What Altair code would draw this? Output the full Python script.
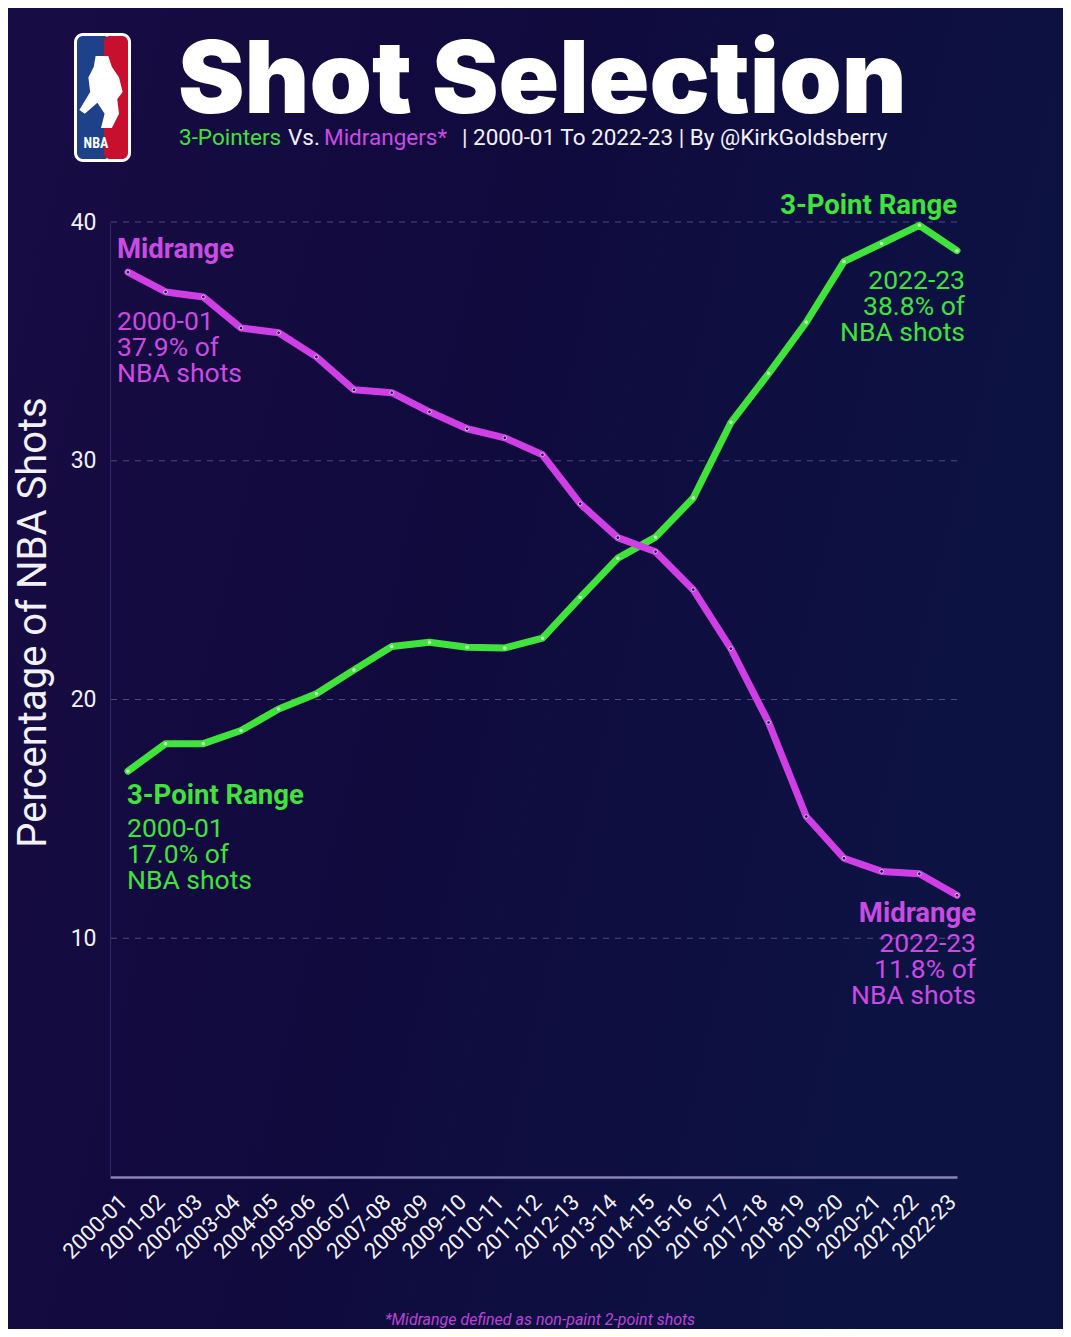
import altair as alt
import pandas as pd

# ---------------- data ----------------
seasons = ["2000-01", "2001-02", "2002-03", "2003-04", "2004-05", "2005-06",
           "2006-07", "2007-08", "2008-09", "2009-10", "2010-11", "2011-12",
           "2012-13", "2013-14", "2014-15", "2015-16", "2016-17", "2017-18",
           "2018-19", "2019-20", "2020-21", "2021-22", "2022-23"]
three_pt = [17.0, 18.15, 18.15, 18.7, 19.6, 20.24, 21.24, 22.22, 22.4, 22.19,
            22.16, 22.57, 24.27, 25.92, 26.8, 28.44, 31.6, 33.65, 35.8, 38.34,
            39.1, 39.86, 38.8]
midrange = [37.9, 37.07, 36.86, 35.56, 35.36, 34.35, 32.97, 32.85, 32.05, 31.34,
            30.96, 30.25, 28.2, 26.78, 26.19, 24.6, 22.13, 19.04, 15.1, 13.35,
            12.8, 12.7, 11.8]
y_ticks = [10, 20, 30, 40]
series_names = ["3-Point Range", "Midrange"]

# ---------------- styling ----------------
GREEN = "#3fe33b"
MAGENTA = "#d03fe6"
MAG_TEXT = "#cc4ae4"
WHITE = "#f2f1f8"
FONT = "Roboto"

W, H = 847, 955
PAD = {"left": 102, "top": 214, "right": 106, "bottom": 152}


def px(x):
    return x - 110


def py(y):
    return y - 222


n = len(seasons)
df = pd.DataFrame({
    "idx": list(range(n)) * 2,
    "season": seasons * 2,
    "value": three_pt + midrange,
    "series": [series_names[0]] * n + [series_names[1]] * n,
})
grid_df = pd.DataFrame({"value": y_ticks})
one = pd.DataFrame({"k": [0]})

label_js = "[" + ",".join(f"'{s}'" for s in seasons) + "][datum.value]"

x_enc = alt.X(
    "idx:Q",
    scale=alt.Scale(domain=[-0.477, n - 1], nice=False, zero=False),
    axis=alt.Axis(values=list(range(n)), labelExpr=label_js, labelAngle=315,
                  labelFontSize=22, labelColor=WHITE, labelFont=FONT,
                  labelPadding=14, labelOffset=-12, labelOverlap=False, ticks=False,
                  grid=False, domainColor="#8a84b9", domainWidth=2.5, title=None,
                  zindex=1),
)
y_enc = alt.Y(
    "value:Q",
    scale=alt.Scale(domain=[0, 40], nice=False, zero=True),
    axis=alt.Axis(values=y_ticks, grid=False, ticks=False, domainColor="#2f2a6a",
                  domainWidth=1, labelFontSize=23, labelColor=WHITE, labelFont=FONT,
                  labelPadding=14, title="Percentage of NBA Shots", titleFont=FONT,
                  titleFontSize=40, titleFontWeight="normal", titleColor=WHITE,
                  titleX=-77, titleY=400, titleAlign="center",
                  titleBaseline="middle", zindex=1),
)

# ---------------- background ----------------
bg = alt.Chart(one).mark_rect(
    fill=alt.LinearGradient(
        gradient="linear",
        stops=[alt.GradientStop(color="#180c44", offset=0),
               alt.GradientStop(color="#100a3d", offset=0.5),
               alt.GradientStop(color="#0c1343", offset=1)],
        x1=0, x2=1, y1=0, y2=0.3,
    )
).encode(x=alt.value(-PAD["left"]), x2=alt.value(W + PAD["right"]),
         y=alt.value(-PAD["top"]), y2=alt.value(H + PAD["bottom"]))

grid = alt.Chart(grid_df).mark_rule(
    color="#4d4987", strokeDash=[6, 6], strokeWidth=1
).encode(y=y_enc)

base = alt.Chart(df)
green_line = base.transform_filter(alt.datum.series == series_names[0]).mark_line(
    color=GREEN, strokeWidth=7, strokeJoin="round", strokeCap="round"
).encode(x=x_enc, y=y_enc)
mag_line = base.transform_filter(alt.datum.series == series_names[1]).mark_line(
    color=MAGENTA, strokeWidth=7, strokeJoin="round", strokeCap="round"
).encode(x=x_enc, y=y_enc)
green_pts = base.transform_filter(alt.datum.series == series_names[0]).mark_point(
    filled=True, size=12, color="#c9ffc2", opacity=1
).encode(x=x_enc, y=y_enc)
mag_pts = base.transform_filter(alt.datum.series == series_names[1]).mark_point(
    filled=True, size=14, fill="#2a0c52", stroke="#f3d2ff", strokeWidth=0.8, opacity=1
).encode(x=x_enc, y=y_enc)


def txt(text, x, y, size, color, weight="normal", align="left", font=FONT,
        style="normal", baseline="middle"):
    return alt.Chart(one).mark_text(
        text=text, align=align, baseline=baseline, fontSize=size, font=font,
        fontWeight=weight, color=color, fontStyle=style
    ).encode(x=alt.value(px(x)), y=alt.value(py(y)))


texts = [
    # header
    txt("Shot Selection", 178, 113, 100, "#ffffff", weight=900, font="Inter",
        baseline="alphabetic"),
    txt("3-Pointers", 179, 138, 22.5, GREEN),
    txt("Vs.", 288, 138, 22.5, WHITE),
    txt("Midrangers*", 324, 138, 22.5, MAG_TEXT),
    txt("| 2000-01 To 2022-23 | By @KirkGoldsberry", 462, 138, 22.5, WHITE),
    # annotations
    txt("Midrange", 117, 250, 27.5, MAG_TEXT, weight="bold"),
    txt("2000-01", 117, 322, 26.5, MAG_TEXT),
    txt("37.9% of", 117, 348, 26.5, MAG_TEXT),
    txt("NBA shots", 117, 374, 26.5, MAG_TEXT),
    txt("3-Point Range", 957, 206, 27.5, GREEN, weight="bold", align="right"),
    txt("2022-23", 965, 281, 26.5, GREEN, align="right"),
    txt("38.8% of", 965, 307, 26.5, GREEN, align="right"),
    txt("NBA shots", 965, 333, 26.5, GREEN, align="right"),
    txt("3-Point Range", 127, 796, 27.5, GREEN, weight="bold"),
    txt("2000-01", 127, 829, 26.5, GREEN),
    txt("17.0% of", 127, 855, 26.5, GREEN),
    txt("NBA shots", 127, 881, 26.5, GREEN),
    txt("Midrange", 976, 914, 27.5, MAG_TEXT, weight="bold", align="right"),
    txt("2022-23", 976, 944, 26.5, MAG_TEXT, align="right"),
    txt("11.8% of", 976, 970, 26.5, MAG_TEXT, align="right"),
    txt("NBA shots", 976, 996, 26.5, MAG_TEXT, align="right"),
    # footer
    txt("*Midrange defined as non-paint 2-point shots", 540, 1320, 16, "#b944d6",
        align="center", style="italic"),
]

# ---------------- NBA-style logo ----------------
logo_frame = alt.Chart(one).mark_rect(fill="#ffffff", cornerRadius=9).encode(
    x=alt.value(px(74)), x2=alt.value(px(131)), y=alt.value(py(33)), y2=alt.value(py(162)))
logo_blue = alt.Chart(one).mark_rect(fill="#1d428a", cornerRadius=6).encode(
    x=alt.value(px(77)), x2=alt.value(px(110)), y=alt.value(py(36)), y2=alt.value(py(159)))
logo_red = alt.Chart(one).mark_rect(fill="#c8102e", cornerRadius=6).encode(
    x=alt.value(px(104)), x2=alt.value(px(128)), y=alt.value(py(36)), y2=alt.value(py(159)))
logo_fig = alt.Chart(one).mark_point(
    shape="M-0.15,-1 L0.2,-1 L0.3,-0.7 L0.5,-0.4 L0.6,0 L0.45,0.2 L0.5,0.6 L0.3,1 L0,1 L0.1,0.6 L-0.1,0.3 L-0.45,0.6 L-0.6,0.5 L-0.3,0 L-0.35,-0.4 L-0.2,-0.7 Z",
    filled=True, fill="#ffffff", size=5200, opacity=1, strokeWidth=0
).encode(x=alt.value(px(101)), y=alt.value(py(92)))
logo_text = txt("NBA", 96, 144, 14, "#ffffff", weight="bold", align="center",
                font="Roboto Condensed")

chart = alt.layer(
    bg, grid, green_line, mag_line, green_pts, mag_pts,
    logo_frame, logo_blue, logo_red, logo_fig, logo_text, *texts
).properties(
    width=W, height=H,
    autosize=alt.AutoSizeParams(type="none"),
    padding=PAD,
    background="#110b3f",
).configure_view(stroke=None)

chart.save("out.html", embed_options={"renderer": "svg", "actions": False})
